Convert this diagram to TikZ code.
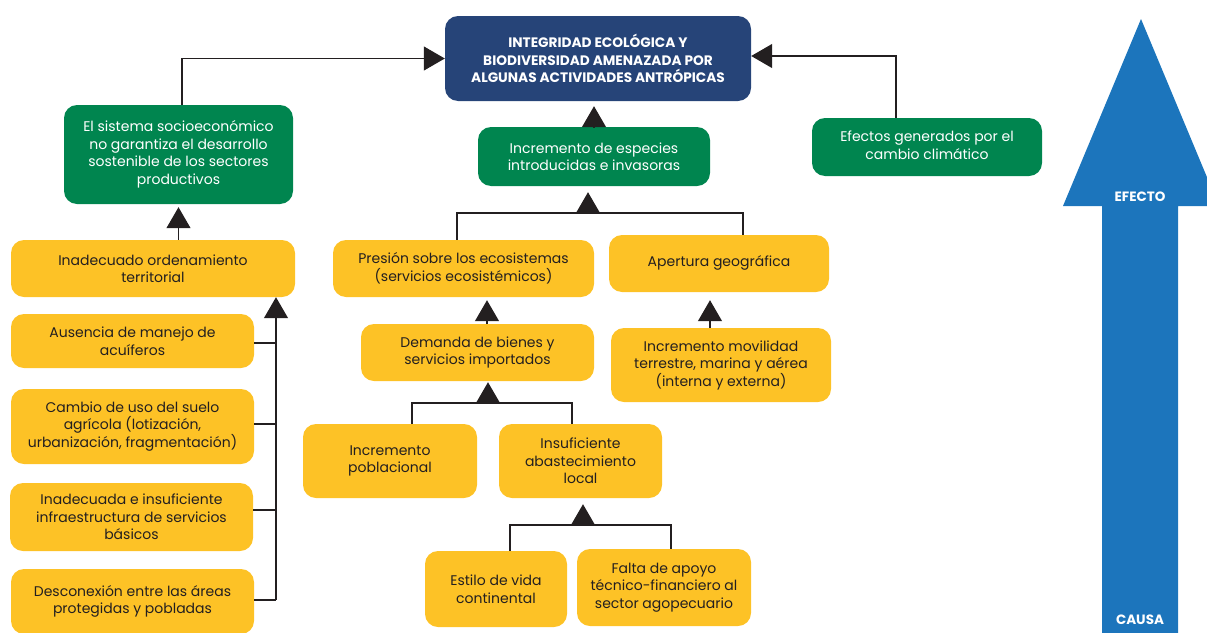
\documentclass[tikz,border=0pt]{standalone}
\usepackage{fontspec}
\setmainfont{Poppins}
\usetikzlibrary{arrows.meta}
\definecolor{ybg}{HTML}{FDC226}
\definecolor{gbg}{HTML}{00854F}
\definecolor{tbg}{HTML}{264478}
\definecolor{abl}{HTML}{1C75BC}
\definecolor{ink}{HTML}{231F20}
\begin{document}
\begin{tikzpicture}[x=1pt,y=-1pt,
 box/.style={rounded corners=13pt, align=center, inner sep=2pt, font=\fontsize{14}{17.5}\selectfont},
 ybox/.style={box, fill=ybg, text=ink},
 gbox/.style={box, fill=gbg, text=white},
 tbox/.style={box, fill=tbg, text=white, font=\bfseries\fontsize{13.7}{17.5}\selectfont},
 biglbl/.style={text=white, font=\bfseries\fontsize{13.5}{15}\selectfont, inner sep=0pt},
 conn/.style={draw=ink, line width=1.2pt},
 arr/.style={conn, -{Triangle[width=24pt,length=21pt]}},
]
\useasboundingbox (0,0) rectangle (1207,632);

% big cause-effect arrow
\fill[abl] (1102,640) -- (1102,206) -- (1063,206) -- (1141,19) -- (1219,206) -- (1178,206) -- (1178,640) -- cycle;
\node[biglbl] (efecto) at (1140,197) {EFECTO};
\node[biglbl] (causa) at (1140,620) {CAUSA};

% nodes
\node[tbox, minimum width=306pt, minimum height=85pt] (top) at (598,58.5) {INTEGRIDAD ECOLÓGICA Y\\BIODIVERSIDAD AMENAZADA POR\\ALGUNAS ACTIVIDADES ANTRÓPICAS};
\node[gbox, minimum width=229pt, minimum height=99pt] (soc) at (178.5,154.5) {El sistema socioeconómico\\no garantiza el desarrollo\\sostenible de los sectores\\productivos};
\node[gbox, minimum width=232pt, minimum height=59pt] (esp) at (594,156.5) {Incremento de especies\\introducidas e invasoras};
\node[gbox, minimum width=230pt, minimum height=58pt] (clim) at (927,147) {\raisebox{3pt}{\shortstack{Efectos generados por el\\[0.5pt]cambio climático}}};
\node[ybox, minimum width=284pt, minimum height=57pt] (ord) at (153,268.5) {Inadecuado ordenamiento\\territorial};
\node[ybox, minimum width=243pt, minimum height=54pt] (aus) at (132.5,341) {Ausencia de manejo de\\acuíferos};
\node[ybox, minimum width=243pt, minimum height=75pt] (cam) at (132.5,426.5) {Cambio de uso del suelo\\agrícola (lotización,\\urbanización, fragmentación)};
\node[ybox, minimum width=243pt, minimum height=68pt] (inf) at (131.5,517) {Inadecuada e insuficiente\\infraestructura de servicios\\básicos};
\node[ybox, minimum width=243pt, minimum height=65pt] (des) at (132.5,601.5) {Desconexión entre las áreas\\protegidas y pobladas};
\node[ybox, minimum width=261pt, minimum height=57pt] (pres) at (463.5,268.5) {Presión sobre los ecosistemas\\(servicios ecosistémicos)};
\node[ybox, minimum width=220pt, minimum height=57pt] (ape) at (719,263.5) {\raisebox{4pt}{Apertura geográfica}};
\node[ybox, minimum width=233pt, minimum height=57pt] (dem) at (477.5,352.5) {Demanda de bienes y\\servicios importados};
\node[ybox, minimum width=220pt, minimum height=74pt] (mov) at (721,365) {Incremento movilidad\\terrestre, marina y aérea\\(interna y externa)};
\node[ybox, minimum width=174pt, minimum height=74pt] (pob) at (390,461) {Incremento\\poblacional};
\node[ybox, minimum width=163pt, minimum height=74pt] (abs) at (580.5,461) {Insuficiente\\abastecimiento\\local};
\node[ybox, minimum width=142pt, minimum height=76pt] (est) at (496,589) {Estilo de vida\\continental};
\node[ybox, minimum width=174pt, minimum height=77pt] (fal) at (664,587.5) {Falta de apoyo\\técnico-financiero al\\sector agopecuario};

% helper coordinates
\coordinate (xa) at (182,0);
\coordinate (xb) at (896,0);
\coordinate (xc) at (276,0);
\coordinate (xd) at (487,0);
\coordinate (xe) at (710,0);
\coordinate (b1l) at (457,213);
\coordinate (b1r) at (743,213);
\coordinate (b1m) at (588,213);
\coordinate (b2l) at (412,403);
\coordinate (b2r) at (572,403);
\coordinate (b2m) at (488,403);
\coordinate (b3l) at (510,525);
\coordinate (b3r) at (671,525);
\coordinate (b3m) at (583,525);

% connectors to the top
\draw[arr] (soc.north -| xa) |- (top.west);
\draw[arr] (clim.north -| xb) |- ([yshift=2.5pt]top.east);
\draw[arr, shorten >=5pt] (esp.north) -- (esp.north |- top.south);
\draw[arr, shorten >=3pt] (ord.north -| soc.south) -- (soc.south);

% left column
\draw[arr] ([yshift=1.5pt]des.east -| xc) -- (xc |- ord.south);
\draw[conn] ([yshift=-2pt]aus.east) -- ([yshift=-2pt]aus.east -| xc);
\draw[conn] ([yshift=2.5pt]cam.east) -- ([yshift=2.5pt]cam.east -| xc);
\draw[conn] ([yshift=7pt]inf.east) -- ([yshift=7pt]inf.east -| xc);
\draw[conn] ([yshift=1.5pt]des.east) -- ([yshift=1.5pt]des.east -| xc);

% middle trees
\draw[conn] (pres.north -| b1l) -- (b1l) -- (b1r) -- (ape.north -| b1r);
\draw[arr, shorten >=6pt] (b1m) -- (b1m |- esp.south);
\draw[arr, shorten >=3pt] (dem.north -| xd) -- (pres.south -| xd);
\draw[arr, shorten >=8pt] (mov.north -| xe) -- (ape.south -| xe);
\draw[conn] (pob.north -| b2l) -- (b2l) -- (b2r) -- (abs.north -| b2r);
\draw[arr, shorten >=1pt] (b2m) -- (b2m |- dem.south);
\draw[conn] (est.north -| b3l) -- (b3l) -- (b3r) -- (fal.north -| b3r);
\draw[arr, shorten >=6pt] (b3m) -- (b3m |- abs.south);
\end{tikzpicture}
\end{document}
